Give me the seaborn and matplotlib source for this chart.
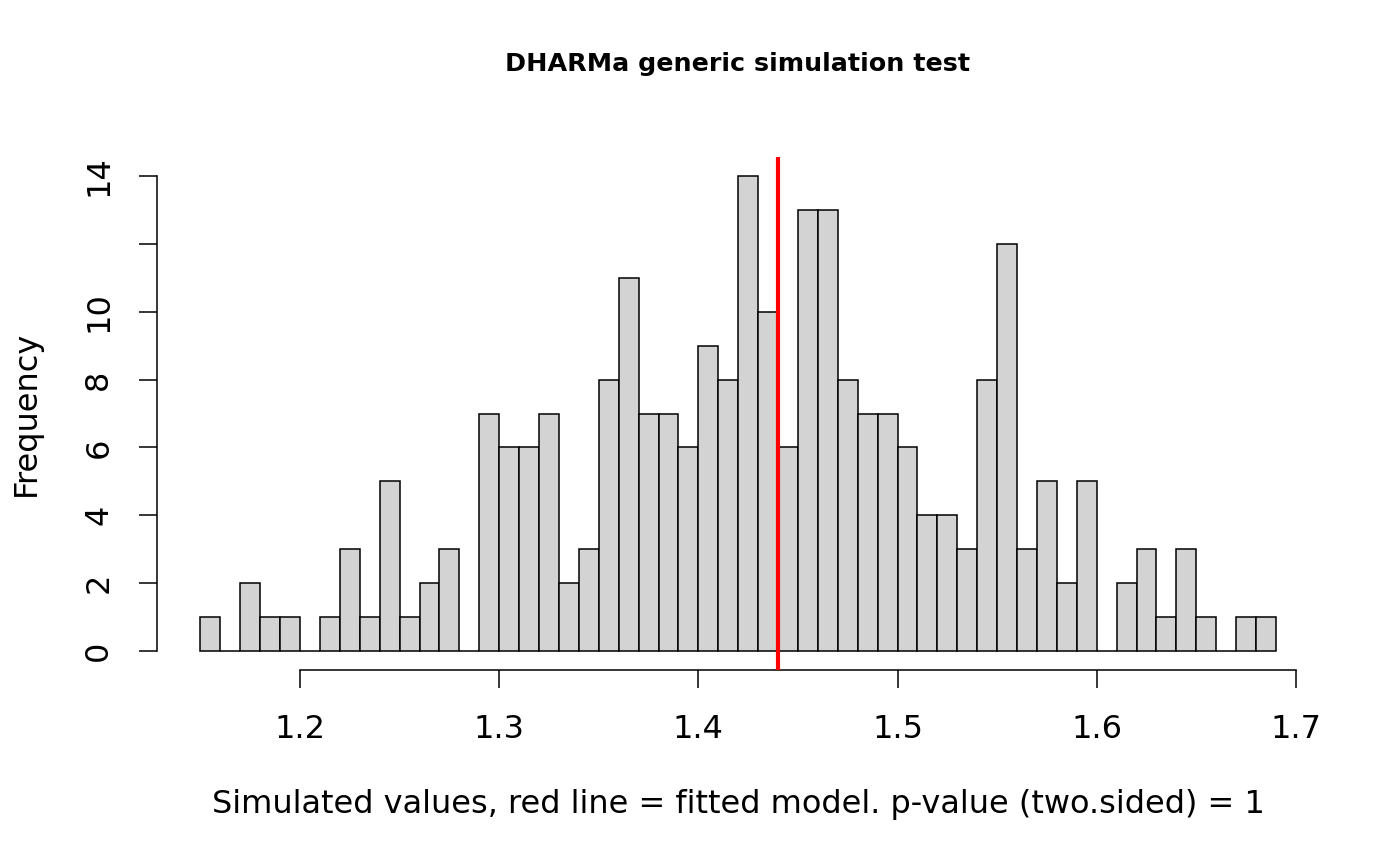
import numpy as np
import pandas as pd
import matplotlib
matplotlib.use("Agg")
import matplotlib.pyplot as plt
import seaborn as sns

# ---- data ----
bin_starts = [1.15, 1.16, 1.17, 1.18, 1.19, 1.20, 1.21, 1.22, 1.23, 1.24,
              1.25, 1.26, 1.27, 1.28, 1.29, 1.30, 1.31, 1.32, 1.33, 1.34,
              1.35, 1.36, 1.37, 1.38, 1.39, 1.40, 1.41, 1.42, 1.43, 1.44,
              1.45, 1.46, 1.47, 1.48, 1.49, 1.50, 1.51, 1.52, 1.53, 1.54,
              1.55, 1.56, 1.57, 1.58, 1.59, 1.60, 1.61, 1.62, 1.63, 1.64,
              1.65, 1.66, 1.67, 1.68]
counts = [1, 0, 2, 1, 1, 0, 1, 3, 1, 5,
          1, 2, 3, 0, 7, 6, 6, 7, 2, 3,
          8, 11, 7, 7, 6, 9, 8, 14, 10, 6,
          13, 13, 8, 7, 7, 6, 4, 4, 3, 8,
          12, 3, 5, 2, 5, 0, 2, 3, 1, 3,
          1, 0, 1, 1]
bin_width = 0.01
observed = 1.44
x_ticks = [1.2, 1.3, 1.4, 1.5, 1.6, 1.7]
x_tick_labels = ["1.2", "1.3", "1.4", "1.5", "1.6", "1.7"]
y_ticks = [0, 2, 4, 6, 8, 10, 12, 14]
y_tick_labels = ["0", "2", "4", "6", "8", "10", "", "14"]
title = "DHARMa generic simulation test"
xlabel = "Simulated values, red line = fitted model. p-value (two.sided) = 1"
ylabel = "Frequency"

df = pd.DataFrame({"start": bin_starts, "count": counts})
df["center"] = df["start"] + bin_width / 2
lo = bin_starts[0]
hi = bin_starts[-1] + bin_width

sns.set_style("white")
plt.rcParams["font.family"] = ["DejaVu Sans"]
plt.rcParams["text.color"] = "black"

W, H = 1400, 866
fig = plt.figure(figsize=(W / 100, H / 100), dpi=100)
left, right, top, bottom = 157.4, 1319.0, 157.0, 670.0
ax = fig.add_axes([left / W, 1 - bottom / H, (right - left) / W, (bottom - top) / H])

sns.histplot(data=df, x="center", weights="count", binwidth=bin_width,
             binrange=(lo, hi), ax=ax,
             color="#D3D3D3", edgecolor="black", linewidth=1.1, alpha=1.0)
ax.axvline(observed, color="#FF0000", linewidth=3.0, zorder=5)

xr = hi - lo
ax.set_xlim(lo - 0.04 * xr, hi + 0.04 * xr)
ax.set_ylim(-0.04 * 14, 14 + 0.04 * 14)

for s in ["top", "right"]:
    ax.spines[s].set_visible(False)
ax.spines["left"].set_bounds(0, 14)
ax.spines["bottom"].set_bounds(1.2, 1.7)
for s in ["left", "bottom"]:
    ax.spines[s].set_linewidth(1.1)
    ax.spines[s].set_color("black")

ax.set_xticks(x_ticks)
ax.set_xticklabels(x_tick_labels)
ax.set_yticks(y_ticks)
ax.set_yticklabels(y_tick_labels, rotation=90, va="center")
ax.tick_params(axis="both", direction="out", length=13, width=1.1,
               color="black", labelsize=23, labelcolor="black",
               left=True, bottom=True)
ax.tick_params(axis="x", pad=19)
ax.tick_params(axis="y", pad=18)
ax.set_xlabel("")
ax.set_ylabel("")
ax.grid(False)

fig.text(738 / W, 1 - 64 / H, title, ha="center", va="center",
         fontsize=18.3, fontweight="bold", color="black")
fig.text(738 / W, 1 - 804 / H, xlabel, ha="center", va="center",
         fontsize=23, color="black")
fig.text(26 / W, 1 - 413 / H, ylabel, ha="center", va="center",
         fontsize=23, rotation=90, color="black")

fig.savefig("out.png", dpi=100, facecolor="white")
